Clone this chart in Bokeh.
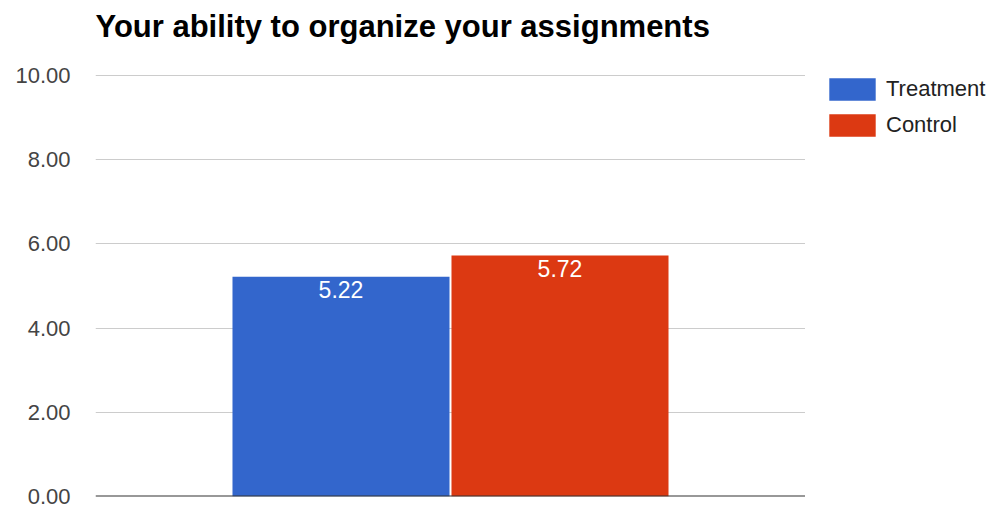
from bokeh.plotting import figure
from bokeh.layouts import row
from bokeh.models import (FactorRange, Range1d, FixedTicker, NumeralTickFormatter,
                          Span, Legend, LegendItem, ColumnDataSource)
from bokeh.embed import file_html
from bokeh.resources import INLINE
from bokeh.core.properties import value

# ---- data ----
title_text = "Your ability to organize your assignments"
series = ["Treatment", "Control"]
values = [5.22, 5.72]
colors = ["#3366CC", "#DC3912"]
y_ticks = [0, 2, 4, 6, 8, 10]

FONT = "Liberation Sans"

p = figure(width=805, height=509, output_backend="svg", toolbar_location=None,
           x_range=FactorRange(factors=series, range_padding=0.621,
                               range_padding_units="absolute"),
           y_range=Range1d(0, 10.02), x_axis_location=None,
           min_border_left=95, min_border_right=0, min_border_top=74,
           min_border_bottom=13)

# title with a trailing blank line to lift it away from the plot frame
p.title.text = title_text + "\n"
p.title.text_font = FONT
p.title.text_font_size = "31px"
p.title.text_font_style = "bold"
p.title.text_color = "#000000"
p.title.text_line_height = 0.86
p.title.align = "left"
p.title.standoff = 0

p.outline_line_color = None
p.background_fill_color = "white"
p.border_fill_color = "white"

p.xgrid.grid_line_color = None
p.ygrid.grid_line_color = "#cccccc"
p.ygrid.grid_line_width = 1

yax = p.yaxis[0]
yax.ticker = FixedTicker(ticks=y_ticks)
yax.formatter = NumeralTickFormatter(format="0.00")
yax.axis_line_color = None
yax.major_tick_line_color = None
yax.minor_tick_line_color = None
yax.major_tick_out = 0
yax.major_tick_in = 0
yax.major_label_standoff = 25
yax.major_label_text_font = FONT
yax.major_label_text_font_size = "22px"
yax.major_label_text_color = "#444444"

for s, v, c in zip(series, values, colors):
    src = ColumnDataSource(dict(x=[s], top=[v], lab=[f"{v:.2f}"]))
    p.vbar(x="x", top="top", width=0.991, source=src, fill_color=c,
           line_color=None)
    p.text(x="x", y="top", text="lab", source=src, text_align="center",
           text_baseline="top", y_offset=4, text_color="white",
           text_font=value(FONT), text_font_size="23px")

p.add_layout(Span(location=0, dimension="width", line_color="#333333",
                  line_width=2))

# ---- legend panel (separate figure to the right) ----
q = figure(width=186, height=509, output_backend="svg", toolbar_location=None,
           x_range=FactorRange(factors=series), y_range=Range1d(0, 10),
           x_axis_location=None, y_axis_location=None, min_border=0)
q.outline_line_color = None
q.background_fill_color = "white"
q.border_fill_color = "white"
q.grid.visible = False

items = []
for s, v, c in zip(series, values, colors):
    r = q.vbar(x=[s], top=[v], width=0.9, fill_color=c, line_color=None)
    r.visible = False
    items.append(LegendItem(label=s, renderers=[r]))

legend = Legend(items=items, location=(18, 357), orientation="vertical",
                glyph_width=58, glyph_height=28, spacing=8, label_standoff=5,
                label_height=28, padding=0, margin=0,
                label_text_font=FONT, label_text_font_size="22px",
                label_text_color="#222222", inactive_fill_alpha=0,
                border_line_color=None, background_fill_alpha=0)
q.add_layout(legend, "center")

layout = row(p, q, spacing=0)
open("out.html", "w").write(file_html(layout, INLINE))
